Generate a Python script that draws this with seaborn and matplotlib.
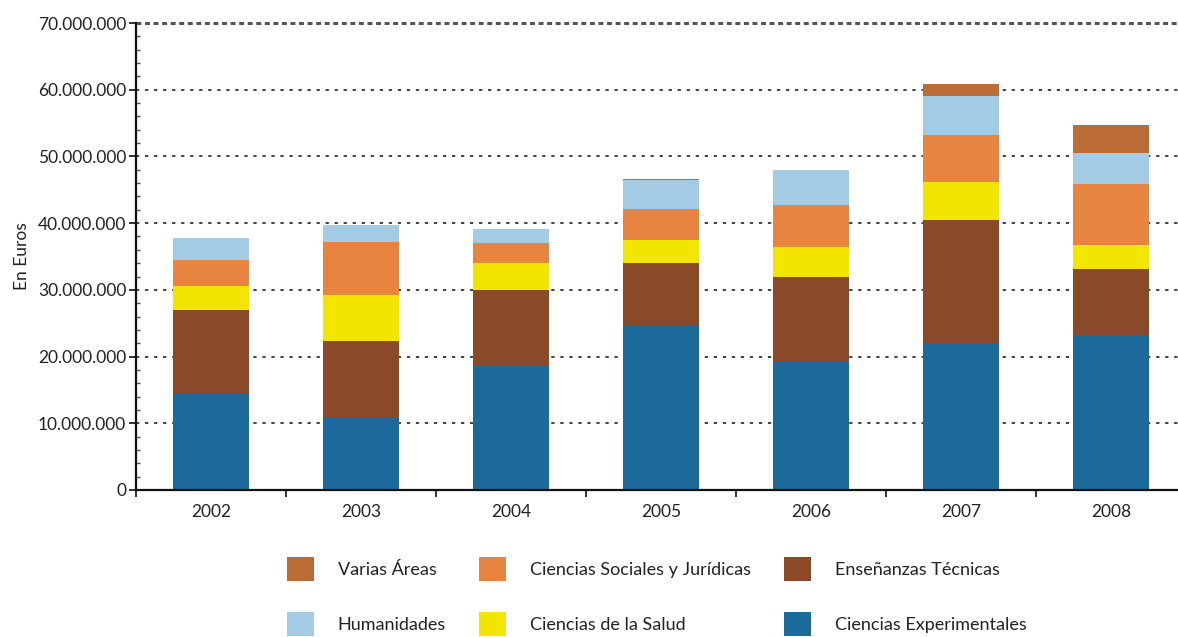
import matplotlib
matplotlib.use("Agg")
import matplotlib.pyplot as plt
import seaborn as sns
import numpy as np
import pandas as pd
from matplotlib.patches import Patch
from matplotlib.ticker import FuncFormatter, MultipleLocator

years = ["2002", "2003", "2004", "2005", "2006", "2007", "2008"]
ciencias_experimentales = [14.43, 10.94, 18.64, 24.73, 19.24, 22.04, 23.23]
ensenanzas_tecnicas = [12.55, 11.40, 11.34, 9.30, 12.69, 18.43, 9.90]
ciencias_salud = [3.60, 6.89, 4.05, 3.45, 4.50, 5.70, 3.60]
ciencias_sociales = [3.90, 7.95, 3.00, 4.64, 6.29, 7.05, 9.14]
humanidades = [3.30, 2.54, 2.09, 4.35, 5.20, 5.84, 4.65]
varias_areas = [0.0, 0.0, 0.0, 0.1, 0.1, 1.80, 4.19]

series_names = ["Ciencias Experimentales", "Enseñanzas Técnicas", "Ciencias de la Salud",
                "Ciencias Sociales y Jurídicas", "Humanidades", "Varias Áreas"]
series_vals = [ciencias_experimentales, ensenanzas_tecnicas, ciencias_salud,
               ciencias_sociales, humanidades, varias_areas]
colors = ["#1c6a99", "#8a4929", "#f2e600", "#e88442", "#a3cbe3", "#bb6c36"]

sns.set_theme(style="white")
plt.rcParams["font.family"] = ["Lato", "DejaVu Sans"]
text_color = "#222222"

fig = plt.figure(figsize=(11.78, 6.37), dpi=100)
ax = fig.add_axes([136 / 1178, 1 - 490 / 637, 1042 / 1178, 467 / 637])

# cumulative stacks, drawn tallest first
cum = np.cumsum(np.array(series_vals) * 1e6, axis=0)
for i in range(len(series_names) - 1, -1, -1):
    df = pd.DataFrame({"Año": years, "valor": cum[i]})
    sns.barplot(data=df, x="Año", y="valor", color=colors[i], width=0.507,
                saturation=1, ax=ax, edgecolor="none", linewidth=0, zorder=3)

# gridlines
for v in range(10, 70, 10):
    ax.axhline(v * 1e6, color="#333333", lw=1.3, ls=(0, (1.8, 3.2)), zorder=1)
ax.axhline(70e6, color="#555555", lw=2.2, ls=(0, (1.6, 1.2)), zorder=1, clip_on=False)

for s in ["top", "right"]:
    ax.spines[s].set_visible(False)
for s in ["left", "bottom"]:
    ax.spines[s].set_color("#111111")
    ax.spines[s].set_linewidth(1.6)
    ax.spines[s].set_zorder(5)

ax.yaxis.set_major_locator(MultipleLocator(10e6))
ax.yaxis.set_minor_locator(MultipleLocator(2e6))
ax.yaxis.set_major_formatter(FuncFormatter(lambda v, p: f"{int(round(v)):,}".replace(",", ".")))
ax.tick_params(axis="y", which="major", direction="out", length=5, width=1.2,
               color="#111111", labelsize=12.5, labelcolor=text_color, pad=2, left=True)
ax.tick_params(axis="y", which="minor", direction="in", length=3, width=1,
               color="#555555", left=True)

ax.set_xticks(range(len(years)))
ax.set_xticklabels(years)
ax.set_xticks(np.arange(-0.5, 6.4, 1), minor=True)
ax.tick_params(axis="x", which="major", length=0, labelsize=12.5, labelcolor=text_color, pad=10)
ax.tick_params(axis="x", which="minor", direction="out", length=5, width=1.2,
               color="#111111", bottom=True)
ax.set_xlim(-0.5, (1178 - 136) / 150 - 0.5)
ax.set_ylim(0, 70e6)
ax.set_xlabel("")
ax.set_ylabel("En Euros", fontsize=12.5, color=text_color, labelpad=6)
ax.grid(False)

# legend: row 1 Varias / Sociales / Técnicas, row 2 Humanidades / Salud / Experimentales
order = [5, 4, 3, 2, 1, 0]
handles = [Patch(facecolor=colors[i], edgecolor="none", label=series_names[i]) for i in order]
leg = fig.legend(handles=handles, ncol=3, loc="upper left",
                 bbox_to_anchor=(287 / 1178, 1 - 557 / 637), frameon=False,
                 fontsize=13, handlelength=1.5, handleheight=1.65,
                 handletextpad=1.3, columnspacing=1.85, labelspacing=1.75,
                 borderaxespad=0, borderpad=0)
for t in leg.get_texts():
    t.set_color(text_color)

fig.savefig("out.png", dpi=100)
